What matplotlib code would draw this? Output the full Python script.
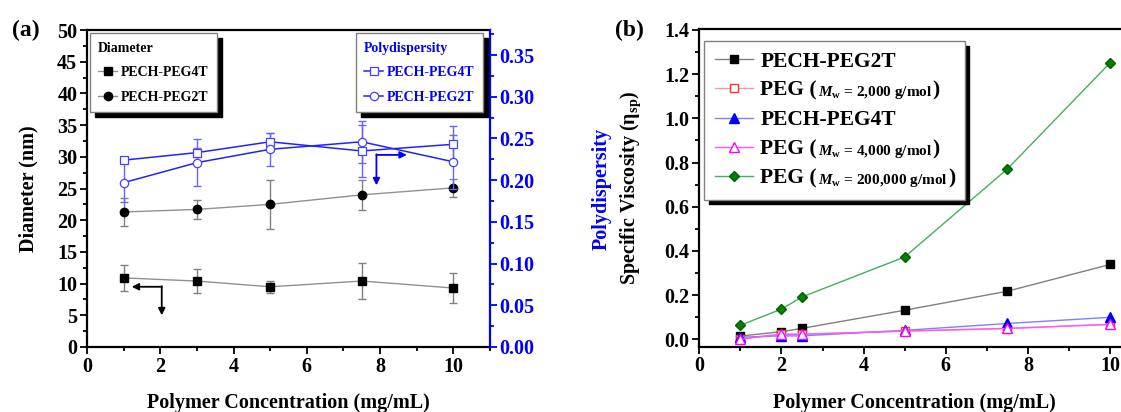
import matplotlib
matplotlib.use("Agg")
import matplotlib.pyplot as plt
from matplotlib.ticker import MultipleLocator

plt.rcParams.update({
    "font.family": ["Liberation Serif", "DejaVu Serif"],
    "font.weight": "bold",
    "axes.labelweight": "bold",
    "mathtext.fontset": "custom",
    "mathtext.rm": "Liberation Serif",
    "mathtext.it": "Liberation Serif:italic:bold",
    "mathtext.bf": "Liberation Serif:bold",
})

# ---------------- data: panel (a) ----------------
conc_a = [1, 3, 5, 7.5, 10]
diam_4t = [10.9, 10.4, 9.5, 10.4, 9.3]
diam_4t_err = [2.1, 1.9, 0.95, 2.8, 2.4]
diam_2t = [21.3, 21.7, 22.5, 24.0, 25.1]
diam_2t_err = [2.2, 1.55, 3.9, 2.4, 1.4]
pdi_4t = [0.224, 0.233, 0.246, 0.235, 0.243]
pdi_4t_err = [0.003, 0.005, 0.010, 0.031, 0.022]
pdi_2t = [0.197, 0.221, 0.237, 0.246, 0.222]
pdi_2t_err = [0.023, 0.028, 0.020, 0.025, 0.032]

# ---------------- data: panel (b) ----------------
conc_b = [1, 2, 2.5, 5, 7.5, 10]
visc_pech_peg2t = [0.015, 0.035, 0.050, 0.132, 0.218, 0.339]
visc_peg2000 = [0.004, 0.024, 0.024, 0.037, 0.049, 0.068]
visc_pech_peg4t = [0.010, 0.016, 0.016, 0.041, 0.072, 0.100]
visc_peg4000 = [0.001, 0.023, 0.023, 0.038, 0.050, 0.068]
visc_peg200k = [0.064, 0.137, 0.192, 0.373, 0.771, 1.251]

W, H = 1121, 412
fig = plt.figure(figsize=(W / 100, H / 100), dpi=100)

BLUE = "#0000ff"
TICK = 14.5


def style_axis(a):
    a.tick_params(which="both", direction="out", width=1.3, labelsize=TICK, pad=2)
    a.tick_params(which="major", length=5)
    a.tick_params(which="minor", length=3)
    for s in a.spines.values():
        s.set_linewidth(1.6)


# =============== panel (a) ===============
ax = fig.add_axes([87 / W, 65 / H, 403 / W, 317 / H])
ax2 = ax.twinx()

ax.errorbar(conc_a, diam_4t, yerr=diam_4t_err, fmt="none", ecolor="#808080",
            elinewidth=1, capsize=3)
ax.errorbar(conc_a, diam_2t, yerr=diam_2t_err, fmt="none", ecolor="#808080",
            elinewidth=1, capsize=3)
l1, = ax.plot(conc_a, diam_4t, "-", color="#909090", lw=1, marker="s", ms=5.5,
              mfc="k", mec="k", label="PECH-PEG4T")
l2, = ax.plot(conc_a, diam_2t, "-", color="#909090", lw=1, marker="o", ms=6,
              mfc="k", mec="k", label="PECH-PEG2T")

ax2.errorbar(conc_a, pdi_4t, yerr=pdi_4t_err, fmt="none", ecolor="#6666ff",
             elinewidth=1, capsize=3)
ax2.errorbar(conc_a, pdi_2t, yerr=pdi_2t_err, fmt="none", ecolor="#6666ff",
             elinewidth=1, capsize=3)
l3, = ax2.plot(conc_a, pdi_4t, "-", color="#2222ff", lw=1.1, marker="s", ms=5.5,
               mfc="white", mec="#4444ff", mew=0.9, label="PECH-PEG4T")
l4, = ax2.plot(conc_a, pdi_2t, "-", color="#2222ff", lw=1.1, marker="o", ms=6,
               mfc="white", mec="#4444ff", mew=0.9, label="PECH-PEG2T")

ax.set_xlim(0, 11)
ax.set_ylim(0, 50)
ax2.set_ylim(0, 0.38)
ax.xaxis.set_major_locator(MultipleLocator(2))
ax.xaxis.set_minor_locator(MultipleLocator(1))
ax.yaxis.set_major_locator(MultipleLocator(5))
ax.yaxis.set_minor_locator(MultipleLocator(2.5))
ax2.yaxis.set_major_locator(MultipleLocator(0.05))
ax2.yaxis.set_minor_locator(MultipleLocator(0.025))
ax2.yaxis.set_major_formatter(matplotlib.ticker.FormatStrFormatter("%.2f"))

style_axis(ax)
style_axis(ax2)
ax.tick_params(right=False, top=False)
ax.spines["right"].set_visible(False)
for s in ("left", "top", "bottom"):
    ax2.spines[s].set_visible(False)
ax2.spines["right"].set_color(BLUE)
ax2.tick_params(which="both", colors=BLUE, labelcolor=BLUE)

ax.set_xlabel("Polymer Concentration (mg/mL)", fontsize=14.5)
ax.set_ylabel("Diameter (nm)", fontsize=14.5)
ax2.set_ylabel("Polydispersity", fontsize=14.5, color=BLUE)
ax.xaxis.set_label_coords(0.5, -0.145)
ax.yaxis.set_label_coords(-0.12, 0.5)
ax2.yaxis.set_label_coords(1.253, 0.5)

# direction arrows
arw = dict(arrowstyle="-|>", lw=1.3, shrinkA=0, shrinkB=0, mutation_scale=10)
ax.annotate("", xy=(1.22, 9.5), xytext=(2.04, 9.5), arrowprops=dict(color="k", **arw))
ax.annotate("", xy=(2.04, 5.0), xytext=(2.04, 9.6), arrowprops=dict(color="k", **arw))
ax.annotate("", xy=(8.73, 30.3), xytext=(7.9, 30.3), arrowprops=dict(color=BLUE, **arw))
ax.annotate("", xy=(7.9, 25.5), xytext=(7.9, 30.4), arrowprops=dict(color=BLUE, **arw))

shadow = {"ox": 3.5, "oy": -3.5, "color": "black", "alpha": 1}
leg_kw = dict(borderaxespad=0, fontsize=10,
              title_fontproperties={"weight": "bold", "size": 10},
              alignment="left", fancybox=False, framealpha=1,
              edgecolor="#808080", shadow=shadow, handlelength=1.35,
              handletextpad=0.3, labelspacing=0.85, borderpad=0.6)
leg_a = ax.legend(handles=[l1, l2], title="Diameter", loc="upper left",
                  bbox_to_anchor=(0.007, 0.99), **leg_kw)
leg_a.get_frame().set_linewidth(1)
leg_a.set_zorder(5)

leg_p = ax2.legend(handles=[l3, l4], title="Polydispersity", loc="upper right",
                   bbox_to_anchor=(0.983, 0.99), labelcolor=BLUE, **leg_kw)
leg_p.get_title().set_color(BLUE)
leg_p.get_frame().set_linewidth(1)

fig.text(0.011, 0.927, "(a)", fontsize=17, va="center", ha="left")

# =============== panel (b) ===============
axb = fig.add_axes([699.3 / W, 65.3 / H, 451.8 / W, 317.4 / H])

series_b = [
    (visc_pech_peg2t, "#808080", dict(marker="s", mfc="k", mec="k", ms=5.5)),
    (visc_peg2000, "#ff9999", dict(marker="s", mfc="white", mec="#ff3333", ms=5.5)),
    (visc_pech_peg4t, "#8080ff", dict(marker="^", mfc=BLUE, mec=BLUE, ms=6.5)),
    (visc_peg4000, "#ff55ff", dict(marker="^", mfc="white", mec="#ff00ff", ms=6.5)),
    (visc_peg200k, "#40b060", dict(marker="D", mfc="#008000", mec="#006000", ms=5.5)),
]
labels_b = ["PECH-PEG2T", "PEG (", "PECH-PEG4T", "PEG (", "PEG ("]
extra_b = [None, "2,000", None, "4,000", "200,000"]
handles_b = []
for (vals, lc, mk), lab in zip(series_b, labels_b):
    h, = axb.plot(conc_b, vals, "-", color=lc, lw=1, mew=1, label=lab, **mk)
    handles_b.append(h)

axb.set_xlim(0, 11)
axb.set_ylim(-0.033, 1.403)
axb.xaxis.set_major_locator(MultipleLocator(2))
axb.xaxis.set_minor_locator(MultipleLocator(1))
axb.yaxis.set_major_locator(MultipleLocator(0.2))
axb.yaxis.set_minor_locator(MultipleLocator(0.1))
axb.yaxis.set_major_formatter(matplotlib.ticker.FormatStrFormatter("%.1f"))
style_axis(axb)
axb.tick_params(right=False, top=False)

axb.set_xlabel("Polymer Concentration (mg/mL)", fontsize=14.5)
axb.set_ylabel("Specific Viscosity (η$_\\mathrm{sp}$)", fontsize=14.5)
axb.xaxis.set_label_coords(0.477, -0.146)
axb.yaxis.set_label_coords(-0.125, 0.5)

leg_b = axb.legend(handles=handles_b, loc="upper left",
                   bbox_to_anchor=(0.011, 0.488, 0.576, 0.476), mode="expand",
                   borderaxespad=0, fontsize=15.5, fancybox=False, framealpha=1,
                   edgecolor="#808080", shadow=shadow, handlelength=1.75,
                   handletextpad=0.35, labelspacing=0.43, borderpad=0.5)
leg_b.get_frame().set_linewidth(1)
leg_b.set_zorder(5)

for t, mw in zip(leg_b.get_texts(), extra_b):
    if mw is None:
        continue
    small = axb.annotate("$M_\\mathrm{w}$ = " + mw + " $\\mathrm{g/mol}$",
                         xy=(1, 0), xycoords=t, xytext=(0.5, 3.4),
                         textcoords="offset points", va="baseline", ha="left",
                         fontsize=11, zorder=6)
    axb.annotate(")", xy=(1, 0), xycoords=(small, t), xytext=(0.5, 0),
                 textcoords="offset points", va="bottom", ha="left",
                 fontsize=15.5, zorder=6)

fig.text(0.549, 0.927, "(b)", fontsize=17, va="center", ha="left")

fig.savefig("out.png", dpi=100, facecolor="white")
